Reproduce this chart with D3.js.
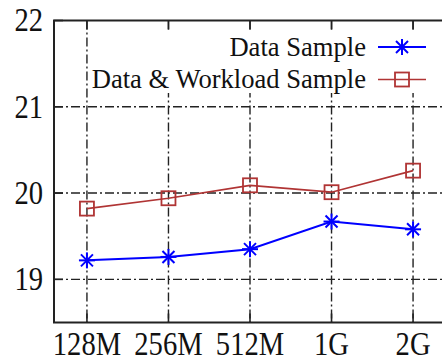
<!DOCTYPE html>
<html>
<head>
<meta charset="utf-8">
<script src="https://cdn.jsdelivr.net/npm/d3@7"></script>
</head>
<body style="margin:0">
<svg id="chart" width="442" height="361"></svg>
<script>
// values
var sizes = ["128M", "256M", "512M", "1G", "2G"];
var dataSample = [19.22, 19.26, 19.35, 19.67, 19.58];
var workloadSample = [19.82, 19.94, 20.09, 20.01, 20.26];
var yTicks = [19, 20, 21, 22];
var seriesNames = ["Data Sample", "Data & Workload Sample"];
var seriesColors = ["#0000ff", "#b03434"];

var FONT = "'Liberation Serif', serif";

var svg = d3.select("#chart");
var margin = { left: 54, top: 20.5, right: -4, bottom: 38.5 };
var W = 442, H = 361;

var x = d3.scaleLinear().domain([-0.404, sizes.length - 1 + 0.404])
    .range([margin.left, W - margin.right]);
var y = d3.scaleLinear().domain([18.5, 22])
    .range([H - margin.bottom, margin.top]);

var grid = "9,3,2,3";

// horizontal grid
svg.append("g").selectAll("line").data(yTicks.slice(0, 3)).join("line")
    .attr("x1", x.range()[0]).attr("x2", x.range()[1])
    .attr("y1", function(d) { return y(d); }).attr("y2", function(d) { return y(d); })
    .attr("stroke", "#222").attr("stroke-width", 1.4).attr("stroke-dasharray", grid);

// vertical grid
svg.append("g").selectAll("line").data(sizes).join("line")
    .attr("x1", function(d, i) { return x(i); }).attr("x2", function(d, i) { return x(i); })
    .attr("y1", y.range()[1]).attr("y2", y.range()[0])
    .attr("stroke", "#222").attr("stroke-width", 1.4).attr("stroke-dasharray", grid);

// legend box covers grid
svg.append("rect").attr("x", 91).attr("y", 30).attr("width", 360).attr("height", 63)
    .attr("fill", "#fff");

// ticks (inward, top and bottom, left)
var ticks = svg.append("g").attr("stroke", "#222").attr("stroke-width", 1.6);
sizes.forEach(function(s, i) {
    ticks.append("line").attr("x1", x(i)).attr("x2", x(i))
        .attr("y1", y.range()[0]).attr("y2", y.range()[0] - 9);
    ticks.append("line").attr("x1", x(i)).attr("x2", x(i))
        .attr("y1", y.range()[1]).attr("y2", y.range()[1] + 9);
});
yTicks.forEach(function(v) {
    ticks.append("line").attr("x1", x.range()[0]).attr("x2", x.range()[0] + 9)
        .attr("y1", y(v)).attr("y2", y(v));
});

// border (right side falls outside window)
svg.append("path")
    .attr("d", "M" + x.range()[1] + "," + y.range()[1] + "H" + x.range()[0] +
        "V" + y.range()[0] + "H" + x.range()[1])
    .attr("fill", "none").attr("stroke", "#222").attr("stroke-width", 2);

// tick labels (the reference font is a little taller than wide)
var tickFont = 28.6, tickSy = 1.17;
svg.append("g").selectAll("text").data(yTicks).join("text")
    .attr("transform", function(d) { return "translate(43," + (y(d) + 10.8) + ") scale(1," + tickSy + ")"; })
    .attr("text-anchor", "end").attr("font-family", FONT).attr("font-size", tickFont).attr("fill", "#111")
    .text(function(d) { return d; });

svg.append("g").selectAll("text").data(sizes).join("text")
    .attr("transform", function(d, i) { return "translate(" + x(i) + ",354.5) scale(1," + tickSy + ")"; })
    .attr("text-anchor", "middle").attr("font-family", FONT).attr("font-size", tickFont).attr("fill", "#111")
    .text(function(d) { return d; });

// markers
function star(g, cx, cy, color) {
    var r = 8;
    var s = g.append("g").attr("stroke", color).attr("stroke-width", 2);
    s.append("line").attr("x1", cx - r).attr("x2", cx + r).attr("y1", cy).attr("y2", cy);
    s.append("line").attr("x1", cx).attr("x2", cx).attr("y1", cy - r).attr("y2", cy + r);
    s.append("line").attr("x1", cx - r * 0.75).attr("x2", cx + r * 0.75).attr("y1", cy - r * 0.75).attr("y2", cy + r * 0.75);
    s.append("line").attr("x1", cx - r * 0.75).attr("x2", cx + r * 0.75).attr("y1", cy + r * 0.75).attr("y2", cy - r * 0.75);
}
function square(g, cx, cy, color) {
    g.append("rect").attr("x", cx - 7).attr("y", cy - 7).attr("width", 14).attr("height", 14)
        .attr("fill", "none").attr("stroke", color).attr("stroke-width", 1.8);
}

var line = d3.line().x(function(d, i) { return x(i); }).y(function(d) { return y(d); });

var series = [dataSample, workloadSample];
var markers = [star, square];
var widths = [2, 1.7];
series.forEach(function(vals, k) {
    var g = svg.append("g");
    g.append("path").datum(vals).attr("d", line)
        .attr("fill", "none").attr("stroke", seriesColors[k]).attr("stroke-width", widths[k]);
    vals.forEach(function(v, i) { markers[k](g, x(i), y(v), seriesColors[k]); });
});

// legend
var legFont = 26.6, legSy = 1.04;
seriesNames.forEach(function(name, k) {
    var ly = 47 + k * 32.5;
    svg.append("text")
        .attr("transform", "translate(366," + (ly + 8.5) + ") scale(1," + legSy + ")")
        .attr("text-anchor", "end").attr("font-family", FONT).attr("font-size", legFont).attr("fill", "#111")
        .text(name);
    svg.append("line").attr("x1", 378).attr("x2", 426).attr("y1", ly).attr("y2", ly)
        .attr("stroke", seriesColors[k]).attr("stroke-width", widths[k]);
    markers[k](svg, 402, ly, seriesColors[k]);
});
</script>
</body>
</html>
